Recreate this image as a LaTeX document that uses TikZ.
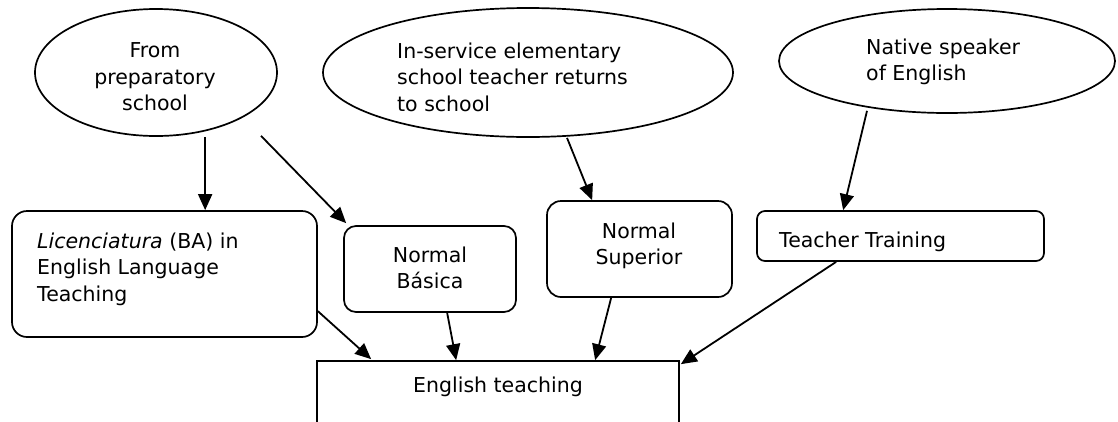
\documentclass[tikz,border=0pt]{standalone}
\usepackage{fontspec}
\setmainfont{DejaVu Sans}
\usetikzlibrary{shapes.geometric,arrows.meta,calc}
\begin{document}
\begin{tikzpicture}[x=1pt,y=-1pt,
  every node/.style={inner sep=0pt},
  txt/.style={font=\fontsize{20.5}{26.5}\selectfont},
  oval/.style={ellipse,draw,line width=1.7pt},
  rbox/.style={draw,rectangle,line width=1.7pt},
  flow/.style={line width=1.8pt,-{Triangle[length=16pt,width=14pt]}}]
\useasboundingbox (0,0) rectangle (1118,421);
\clip (0,0) rectangle (1118,421);

% entry routes
\node[oval,minimum width=242,minimum height=127] (e1) at (156,72.5) {};
\node[txt,align=center,anchor=north] (e1t) at (155,42.5) {From\\preparatory\\school};
\node[oval,minimum width=410,minimum height=129] (e2) at (528,72.5) {};
\node[txt,align=left,anchor=north west] (e2t) at (397,42.5) {In-service elementary\\school teacher returns\\to school};
\node[oval,minimum width=336,minimum height=104] (e3) at (947,61) {};
\node[txt,align=left,anchor=north west] (e3t) at (866,38.5) {Native speaker\\of English};

% programmes
\node[rbox,rounded corners=15pt,minimum width=305,minimum height=126] (lic) at (164.5,274) {};
\node[txt,align=left,anchor=north west] (lict) at (37,232.5) {\textit{Licenciatura} (BA) in\\English Language\\Teaching};
\node[rbox,rounded corners=12pt,minimum width=172,minimum height=86] (nb) at (430,269) {};
\node[txt,align=center,anchor=north] (nbt) at (430,246.5) {Normal\\Básica};
\node[rbox,rounded corners=14pt,minimum width=185,minimum height=96] (ns) at (639.5,249) {};
\node[txt,align=center,anchor=north] (nst) at (639,222.5) {Normal\\Superior};
\node[rbox,rounded corners=8pt,minimum width=287,minimum height=50] (tt) at (900.5,236) {};
\node[txt,anchor=north west] (ttt) at (779,231.5) {Teacher Training};

% outcome
\node[rbox,minimum width=362,minimum height=120] (et) at (498,421) {};
\node[txt,anchor=north] (ett) at (498,376.5) {English teaching};

% route connectors
\coordinate (s2) at ($(e1.south)+(105,-1)$);
\coordinate (s4) at ($(e3.south)+(-80,-3)$);
\draw[flow] (e1.south -| {$(lic.north west)+(194,0)$}) -- ($(lic.north west)+(194,0)$);
\draw[flow] (s2) -- ($(nb.north west)+(3,-2)$);
\draw[flow] ($(e2.south)+(39,0)$) -- ($(ns.north west)+(46,0)$);
\draw[flow] (s4) -- ($(tt.north west)+(87,0)$);
\draw[flow] ($(lic.north east)+(0,101)$) -- ($(et.north west)+(55,-1)$);
\draw[flow] ($(nb.south west)+(104,0)$) -- ($(et.north west)+(140,0)$);
\draw[flow] ($(ns.south west)+(65,0)$) -- ($(et.north west)+(279,0)$);
\draw[flow] ($(tt.south west)+(80,0)$) -- ($(et.north east)+(1,4)$);
\end{tikzpicture}
\end{document}
